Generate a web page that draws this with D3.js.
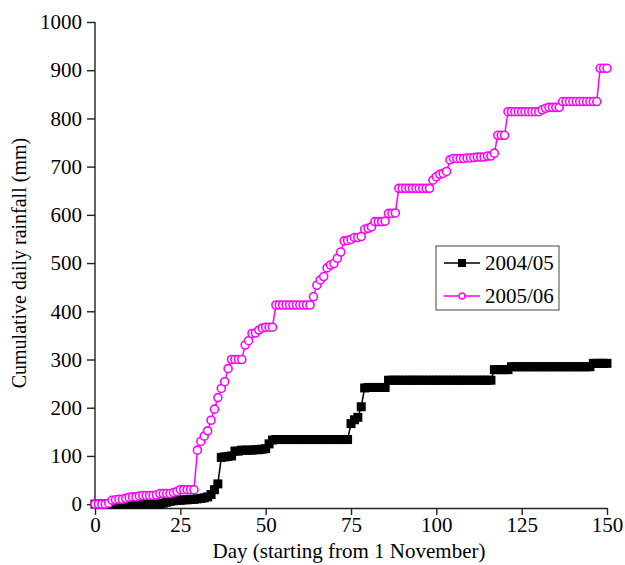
<!DOCTYPE html>
<html>
<head>
<meta charset="utf-8">
<script src="https://cdn.jsdelivr.net/npm/d3@7"></script>
<style>
  body { margin: 0; background: #fff; }
</style>
</head>
<body>
<div id="chart"></div>
<script>
// data: cumulative daily rainfall (mm), one value per day from 1 November
const days = d3.range(0, 151)

const rain0405 = [
  0, 0, 0, 0, 0, 0, 0, 0, 0, 0,
  0, 0, 0, 0, 0, 0, 0, 0, 0, 0,
  2, 4, 6, 7, 8, 8, 9, 9, 10, 10,
  11, 12, 13, 15, 20, 30, 42, 97, 98, 99,
  100, 110, 110, 112, 112, 112, 112, 113, 113, 114,
  115, 125, 133, 134, 134, 134, 134, 134, 134, 134,
  134, 134, 134, 134, 134, 134, 134, 134, 134, 134,
  134, 134, 134, 134, 134, 167, 175, 180, 202, 241,
  242, 242, 242, 242, 242, 242, 257, 257, 257, 257,
  257, 257, 257, 257, 257, 257, 257, 257, 257, 257,
  257, 257, 257, 257, 257, 257, 257, 257, 257, 257,
  257, 257, 257, 257, 257, 257, 257, 279, 279, 279,
  279, 279, 285, 285, 285, 285, 285, 285, 285, 285,
  285, 285, 285, 285, 285, 285, 285, 285, 285, 285,
  285, 285, 285, 285, 285, 285, 292, 292, 292, 292,
  292
]

const rain0506 = [
  0, 0, 0, 0, 2, 8, 9, 10, 10, 12,
  14, 15, 15, 17, 18, 18, 18, 18, 19, 22,
  22, 22, 22, 24, 26, 30, 30, 30, 30, 30,
  112, 130, 141, 152, 174, 197, 221, 240, 254, 281,
  300, 300, 300, 300, 330, 339, 354, 355, 361, 365,
  367, 367, 367, 413, 413, 413, 413, 413, 413, 413,
  413, 413, 413, 413, 430, 454, 465, 472, 490, 496,
  499, 510, 523, 546, 547, 549, 553, 553, 555, 570,
  572, 575, 586, 586, 586, 587, 603, 603, 604, 655,
  655, 655, 655, 655, 655, 655, 655, 655, 655, 672,
  679, 684, 686, 690, 714, 717, 717, 717, 717, 718,
  718, 719, 720, 720, 720, 722, 722, 728, 765, 765,
  765, 814, 814, 814, 814, 814, 814, 814, 814, 814,
  814, 818, 821, 823, 823, 823, 823, 835, 835, 835,
  835, 835, 835, 835, 835, 835, 835, 835, 904, 904,
  904
]

const seriesNames = ["2004/05", "2005/06"]
const xTicks = [0, 25, 50, 75, 100, 125, 150]
const yTicks = d3.range(0, 1001, 100)

const serif = "'Liberation Serif', 'Times New Roman', Times, serif"

// layout
const W = 625, H = 565
const margin = {top: 22, right: 18, bottom: 57, left: 95}
const width = W - margin.left - margin.right
const height = H - margin.top - margin.bottom

const svg = d3.select("#chart").append("svg")
    .attr("width", W)
    .attr("height", H)

const g = svg.append("g")
    .attr("transform", `translate(${margin.left},${margin.top})`)

const x = d3.scaleLinear().domain([0, 150]).range([0, width])
const y = d3.scaleLinear().domain([-8, 1000]).range([height, 0])

// axes
const xAxis = d3.axisBottom(x).tickValues(xTicks).tickSize(7).tickSizeOuter(0).tickPadding(2)
const yAxis = d3.axisLeft(y).tickValues(yTicks).tickFormat(d3.format("d"))
    .tickSize(8).tickSizeOuter(0).tickPadding(5)

const xGroup = g.append("g")
    .attr("transform", `translate(0,${height})`)
    .call(xAxis)
const yGroup = g.append("g").call(yAxis)

for (const ax of [xGroup, yGroup]) {
  ax.attr("font-family", null).attr("font-size", null)
  ax.selectAll("path, line").attr("stroke", "#222").attr("stroke-width", 1.4)
  ax.selectAll("text")
      .style("font-family", serif)
      .style("font-size", "21px")
      .attr("fill", "#000")
}
// y axis line down to the x axis
yGroup.select("path.domain").attr("d", `M0,0V${height}`)

// axis titles
svg.append("text")
    .attr("x", margin.left + width / 2 - 2)
    .attr("y", 558)
    .attr("text-anchor", "middle")
    .style("font-family", serif)
    .style("font-size", "21px")
    .text("Day (starting from 1 November)")

svg.append("text")
    .attr("transform", `translate(26,${margin.top + y(500)}) rotate(-90)`)
    .attr("text-anchor", "middle")
    .style("font-family", serif)
    .style("font-size", "20px")
    .text("Cumulative daily rainfall (mm)")

// series
const line = d3.line()
    .x((d, i) => x(days[i]))
    .y(d => y(d))

// 2004/05 black, squares
g.append("path")
    .datum(rain0405)
    .attr("fill", "none")
    .attr("stroke", "#000")
    .attr("stroke-width", 1.5)
    .attr("d", line)

const sq = 9
g.append("g").selectAll("rect")
    .data(rain0405)
    .join("rect")
    .attr("x", (d, i) => x(days[i]) - sq / 2)
    .attr("y", d => y(d) - sq / 2)
    .attr("width", sq)
    .attr("height", sq)
    .attr("fill", "#000")

// 2005/06 magenta, open circles
g.append("path")
    .datum(rain0506)
    .attr("fill", "none")
    .attr("stroke", "#ff00ff")
    .attr("stroke-width", 1.5)
    .attr("d", line)

g.append("g").selectAll("circle")
    .data(rain0506)
    .join("circle")
    .attr("cx", (d, i) => x(days[i]))
    .attr("cy", d => y(d))
    .attr("r", 4)
    .attr("fill", "#fff")
    .attr("stroke", "#ff00ff")
    .attr("stroke-width", 1.6)

// legend
const legend = svg.append("g").attr("transform", "translate(436,246)")
legend.append("rect")
    .attr("width", 123)
    .attr("height", 64)
    .attr("fill", "#fff")
    .attr("stroke", "#444")
    .attr("stroke-width", 1)

const legendColors = ["#000", "#ff00ff"]
seriesNames.forEach((name, i) => {
  const ly = 17 + i * 33
  const row = legend.append("g").attr("transform", `translate(0,${ly})`)
  row.append("line")
      .attr("x1", 8).attr("x2", 44)
      .attr("stroke", legendColors[i])
      .attr("stroke-width", 1.5)
  if (i === 0) {
    row.append("rect")
        .attr("x", 22).attr("y", -4)
        .attr("width", 8).attr("height", 8)
        .attr("fill", "#000")
  } else {
    row.append("circle")
        .attr("cx", 26).attr("r", 3)
        .attr("fill", "#fff")
        .attr("stroke", "#ff00ff")
        .attr("stroke-width", 1.4)
  }
  row.append("text")
      .attr("x", 49)
      .attr("y", 7)
      .style("font-family", serif)
      .style("font-size", "21px")
      .text(name)
})
</script>
</body>
</html>
